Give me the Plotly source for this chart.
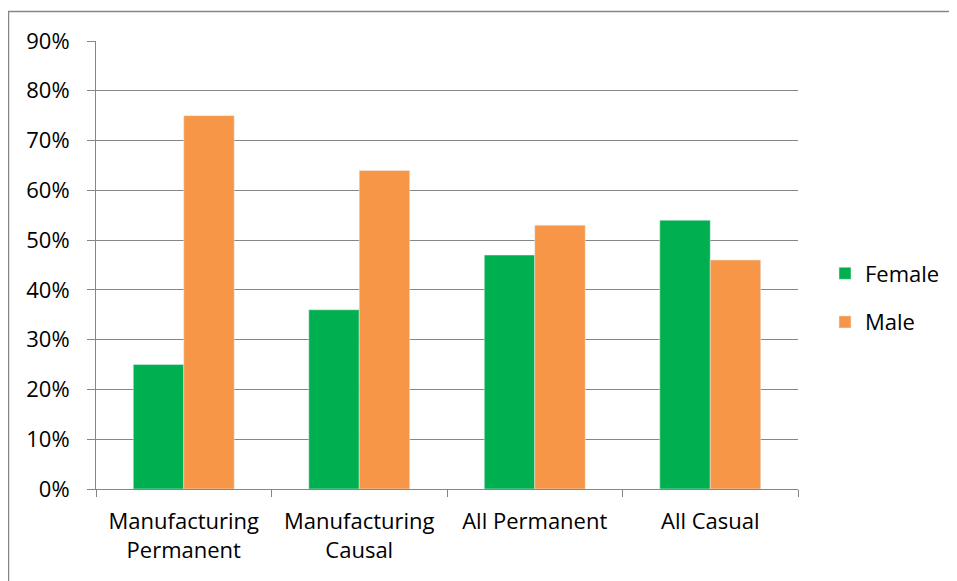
import plotly.graph_objects as go

categories = ["Manufacturing<br>Permanent", "Manufacturing<br>Causal", "All Permanent", "All Casual"]
female = [0.25, 0.36, 0.47, 0.54]
male = [0.75, 0.64, 0.53, 0.46]
ytick_vals = [0, 0.1, 0.2, 0.3, 0.4, 0.5, 0.6, 0.7, 0.8, 0.9]
ytick_text = ["0%", "10%", "20%", "30%", "40%", "50%", "60%", "70%", "80%", "90%"]

# page has an 8px body margin; figure coordinates below are relative to the figure
W, H = 949, 573
L, R, T, B = 88, 159, 33, 92
pw, ph = W - L - R, H - T - B

FONT = "Open Sans, sans-serif"
GRAY = "#868686"

fig = go.Figure()
fig.add_trace(go.Bar(x=categories, y=female, name="Female", marker_color="#00B050",
                     legendgroup="f"))
fig.add_trace(go.Bar(x=categories, y=male, name="Male", marker_color="#F79646",
                     legendgroup="m"))

def px_x(x):
    return (x - L) / pw

def px_y(y):
    return (H - B - y) / ph

fig.add_shape(type="rect", xref="paper", yref="paper",
              x0=px_x(0.5), x1=px_x(1200), y0=px_y(3.5), y1=px_y(900),
              line=dict(color=GRAY, width=1.5), fillcolor="rgba(0,0,0,0)", layer="below")

fig.update_layout(
    width=W, height=H,
    margin=dict(l=L, r=R, t=T, b=B, autoexpand=False),
    paper_bgcolor="white", plot_bgcolor="white",
    font=dict(family=FONT, size=22, color="#000000"),
    barmode="group", bargap=0.425, bargroupgap=0,
    showlegend=True,
    legend=dict(x=px_x(817), xanchor="left", y=px_y(290), yanchor="middle",
                font=dict(size=22), tracegroupgap=17, itemwidth=30,
                bgcolor="rgba(0,0,0,0)"),
    xaxis=dict(showline=True, linecolor=GRAY, linewidth=1, ticks="outside",
               tickson="boundaries", ticklen=7, tickcolor=GRAY, showgrid=False,
               tickfont=dict(size=22), ticklabelstandoff=13),
    yaxis=dict(range=[0, 0.9], tickvals=ytick_vals, ticktext=ytick_text,
               showline=True, linecolor=GRAY, linewidth=1, ticks="outside",
               ticklen=8, tickcolor=GRAY, showgrid=True, gridcolor=GRAY, gridwidth=1,
               zeroline=False, tickfont=dict(size=22), ticklabelstandoff=13),
)

fig.write_html("out.html")
